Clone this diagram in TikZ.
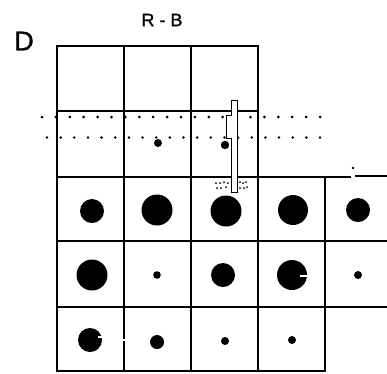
\documentclass[tikz,border=0pt]{standalone}
\usepackage{fontspec}
\setmainfont{Liberation Sans}
\newfontfamily\labelfont[FakeBold=1.2]{Liberation Sans}
\begin{document}
\begin{tikzpicture}[x=1pt,y=-1pt,
  gridline/.style={line width=2.1pt, line cap=rect},
  blob/.style={fill=black},
  speck/.style={fill=black},
  electrode/.style={draw=black, fill=white, line width=1pt}]
\useasboundingbox (0,0) rectangle (387,373);
% grid
\draw[gridline] (57,46) -- (258,46);
\draw[gridline] (57,111) -- (258,111);
\draw[gridline] (57,177) -- (350,177);
\draw[gridline] (356,176) -- (387,176);
\draw[gridline] (57,241) -- (387,241);
\draw[gridline] (57,307) -- (387,307);
\draw[gridline] (57,371) -- (325,371);
\foreach \x in {57,124,191,258} \draw[gridline] (\x,46) -- (\x,371);
\draw[gridline] (325,177) -- (325,371);
% scan breaks
\draw[white, line width=1.5pt] (121,340) -- (127,340);
% dotted rows
\foreach \i in {0,...,20} \fill ({42+\i*13.9},117) circle (1.5);
\foreach \i in {0,...,20} \fill ({47+\i*13.65},137.5) circle (1.4);
\fill (353,168) circle (1.4);
% blobs row 2
\fill[blob] (158,143) circle (4);
\fill[blob] (225,145) circle (4.2);
% row 3
\fill[blob] (92,211) circle (12);
\fill[blob] (157,210) circle (15.5);
\fill[blob] (226,211) circle (15.5);
\fill[blob] (293,210) circle (15);
\fill[blob] (358,210) circle (12);
% row 4
\fill[blob] (92,275) circle (15.5);
\fill[blob] (157,275) circle (3.8);
\fill[blob] (223,275) circle (12);
\fill[blob] (292,275) circle (15);
\draw[white, line width=1.4pt] (300,276) -- (308,276);
\fill[blob] (358,275) circle (4);
% row 5
\fill[blob] (90,340) circle (12);
\draw[white, line width=1.2pt] (98,337) -- (103,337);
\fill[blob] (157,342) circle (7);
\fill[blob] (225,341) circle (4);
\fill[blob] (292,340) circle (4);
% electrode
\draw[electrode] (231,100) -- (237,100) -- (237,192) -- (231,192) -- (231,138)
  -- (226,138) -- (226,115) -- (231,115) -- cycle;
% stipple near tip
\foreach \p in {(216,183),(220,183),(224,182),(228,183),(240,182),(243,183),(246,182),
  (217,188),(221,188),(226,187),(240,188),(244,188),(247,187)}
  \fill[speck] \p circle (1);
% labels
\node[font=\labelfont\fontsize{27}{27}\selectfont, inner sep=0pt] (labD) at (24,41) {D};
\node[font=\labelfont\fontsize{18}{18}\selectfont, inner sep=0pt] (labRB) at (162,20) {R - B};
\end{tikzpicture}
\end{document}
